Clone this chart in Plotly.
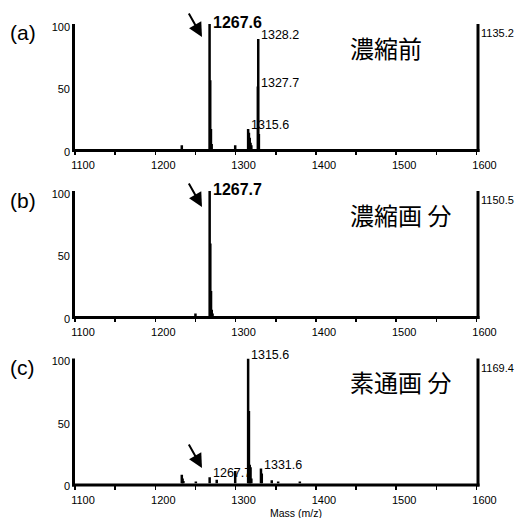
import plotly.graph_objects as go

W = H = 518
FONT = "Liberation Sans, Arial, sans-serif"
CJK = "Noto Sans CJK JP"

mass_range = [1100, 1600]
intensity_range = [0, 100]
y_ticks = [0, 50, 100]

panel_labels = ["(a)", "(b)", "(c)"]
panel_titles = ["濃縮前", "濃縮画 分", "素通画 分"]
right_labels = ["1135.2", "1150.5", "1169.4"]

# spectrum (a): 濃縮前
mass_a = [1233.0, 1267.6, 1268.4, 1269.3, 1270.2, 1299.5, 1315.6, 1316.6,
          1317.6, 1318.6, 1319.6, 1327.7, 1328.2, 1329.0]
int_a = [3, 100, 55, 16, 4, 3, 16, 13, 9, 5, 3, 50, 88, 12]

# spectrum (b): 濃縮画分
mass_b = [1250.0, 1267.7, 1268.5, 1269.4, 1270.3, 1271.3]
int_b = [2, 100, 58, 20, 5, 2]

# spectrum (c): 素通画分
mass_c = [1233.0, 1234.0, 1235.0, 1250.5, 1267.7, 1276.5, 1299.5, 1315.6,
          1316.6, 1317.6, 1318.6, 1319.6, 1331.6, 1332.6, 1345.0, 1353.0, 1380.0]
int_c = [7, 4, 2, 1.5, 5, 3, 10, 100, 58, 15, 13, 4, 12, 8, 2.5, 1.5, 1.5]

# peak labels: (text, mass, intensity, bold)
labels_a = [("1267.6", 1267.6, 100, True), ("1328.2", 1328.2, 88, False),
            ("1327.7", 1327.7, 50, False), ("1315.6", 1315.6, 16, False)]
labels_b = [("1267.7", 1267.7, 100, True)]
labels_c = [("1315.6", 1315.6, 100, False), ("1331.6", 1331.6, 12, False),
            ("1267.7", 1267.7, 5, False)]

spectra = [(mass_a, int_a, labels_a), (mass_b, int_b, labels_b), (mass_c, int_c, labels_c)]

# layout in pixels
x_dom_px = (75, 476.5)
y_dom_px = [(24, 149), (191, 316), (358.5, 483.5)]
LW = 3


def px(x):
    return x / W


def py(y):
    return 1 - y / H


fig = go.Figure()
annotations = []
shapes = []

for i, (masses, ints, labs) in enumerate(spectra):
    n = "" if i == 0 else str(i + 1)
    xs, ys = [], []
    for m, v in zip(masses, ints):
        xs += [m, m, None]
        ys += [0, v, None]
    fig.add_trace(go.Scatter(
        x=xs, y=ys, mode="lines", line=dict(color="black", width=2.5),
        xaxis="x" + n, yaxis="y" + n, showlegend=False, hoverinfo="skip"))

    top, bot = y_dom_px[i]
    fig.layout["xaxis" + n] = dict(
        domain=[px(x_dom_px[0]), px(x_dom_px[1])], anchor="y" + n,
        range=mass_range, tickmode="linear", tick0=1100, dtick=100,
        ticks="outside", ticklen=5, tickwidth=1.5, tickcolor="black",
        minor=dict(tickmode="linear", tick0=1100, dtick=50, ticks="outside",
                   ticklen=5, tickwidth=1.5, tickcolor="black"),
        ticklabelshift=8, ticklabelstandoff=1,
        showline=False, showgrid=False, zeroline=False, automargin=False,
        fixedrange=True,
        tickfont=dict(family=FONT, size=11, color="black"))
    fig.layout["yaxis" + n] = dict(
        domain=[py(bot), py(top)], anchor="x" + n,
        range=intensity_range, tickmode="array", tickvals=y_ticks,
        ticks="", ticklabelshift=3, ticklabelstandoff=4,
        showline=False, showgrid=False, zeroline=False, automargin=False,
        fixedrange=True,
        tickfont=dict(family=FONT, size=11, color="black"))

    # axis frame lines (left, bottom, right)
    xl = x_dom_px[0] - LW / 2
    xr = x_dom_px[1] + LW / 2
    yb = bot + LW / 2
    line = dict(color="black", width=LW)
    shapes.append(dict(type="line", xref="paper", yref="paper",
                       x0=px(xl), x1=px(xl), y0=py(top), y1=py(yb + LW / 2), line=line))
    shapes.append(dict(type="line", xref="paper", yref="paper",
                       x0=px(xr), x1=px(xr), y0=py(top), y1=py(yb + LW / 2), line=line))
    shapes.append(dict(type="line", xref="paper", yref="paper",
                       x0=px(xl - LW / 2), x1=px(xr + LW / 2), y0=py(yb), y1=py(yb), line=line))

    for text, m, v, bold in labs:
        annotations.append(dict(
            x=m, y=v, xref="x" + n, yref="y" + n,
            text=f"<b>{text}</b>" if bold else text, showarrow=False,
            xanchor="left", yanchor="middle", xshift=1,
            yshift=1.5 if bold else 4,
            font=dict(family=FONT, size=16 if bold else 12.5, color="black")))

    # panel letter
    annotations.append(dict(
        x=px(8), y=py(top + 9), xref="paper", yref="paper", text=panel_labels[i],
        showarrow=False, xanchor="left", yanchor="middle",
        font=dict(family=FONT, size=21, color="black")))
    # panel title
    annotations.append(dict(
        x=px(348), y=py(top + 23), xref="paper", yref="paper", text=panel_titles[i],
        showarrow=False, xanchor="left", yanchor="middle",
        font=dict(family=CJK, size=24, color="black")))
    # right label
    annotations.append(dict(
        x=px(479), y=py(top + 9), xref="paper", yref="paper", text=right_labels[i],
        showarrow=False, xanchor="left", yanchor="middle",
        font=dict(family=FONT, size=11, color="black")))

# arrows pointing to the 1267 peak
arrow_tips = [(202, 37), (202, 207), (202, 468)]
for tx, ty in arrow_tips:
    annotations.append(dict(
        x=px(tx), y=py(ty), xref="paper", yref="paper", text="",
        showarrow=True, ax=-14, ay=-25, arrowhead=2, arrowsize=1.4,
        arrowwidth=2, arrowcolor="black"))

# x axis title
annotations.append(dict(
    x=px(296), y=py(512.5), xref="paper", yref="paper", text="Mass (m/z)",
    showarrow=False, xanchor="center", yanchor="middle",
    font=dict(family=FONT, size=10.5, color="black")))

fig.update_layout(
    width=W, height=H, margin=dict(l=0, r=0, t=0, b=0),
    paper_bgcolor="white", plot_bgcolor="white",
    annotations=annotations, shapes=shapes, showlegend=False)

fig.write_html("out.html", config={"displayModeBar": False, "staticPlot": True},
               post_script="document.body.style.margin='0px';document.body.style.padding='0px';")
